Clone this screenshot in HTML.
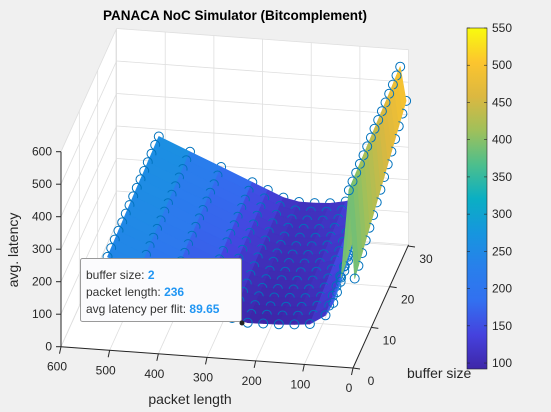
<!DOCTYPE html>
<html><head><meta charset="utf-8"><style>
html,body{margin:0;padding:0;background:#f0f0f0;}
svg{display:block;font-family:"Liberation Sans",sans-serif;}
</style></head><body>
<svg id="c" width="551" height="412" viewBox="0 0 551 412">
<defs><linearGradient id="parula" x1="0" y1="1" x2="0" y2="0">
<stop offset="0" stop-color="#3e26a8"/><stop offset="0.1" stop-color="#4542de"/><stop offset="0.2" stop-color="#3270f0"/><stop offset="0.3" stop-color="#2880eb"/><stop offset="0.4" stop-color="#1696de"/><stop offset="0.5" stop-color="#0aafc3"/><stop offset="0.6" stop-color="#4dbf8c"/><stop offset="0.7" stop-color="#a0c05a"/><stop offset="0.8" stop-color="#dcb840"/><stop offset="0.9" stop-color="#fcc52e"/><stop offset="1" stop-color="#f9fb0e"/>
</linearGradient></defs>
<g id="walls"></g><g id="surf"></g><g id="axes"></g>
<text x="235" y="20" text-anchor="middle" font-size="13.5" font-weight="bold" fill="#000">PANACA NoC Simulator (Bitcomplement)</text>
<text transform="translate(18,250) rotate(-90)" text-anchor="middle" font-size="14" fill="#262626">avg. latency</text>
<text x="190" y="404" text-anchor="middle" font-size="14" fill="#262626">packet length</text>
<text x="407" y="378" font-size="14" fill="#262626">buffer size</text>
<rect x="467" y="28" width="20" height="341" fill="url(#parula)" stroke="#262626" stroke-width="0.6"/>
<g id="cbt"></g>
<g>
<rect x="80.5" y="258.5" width="161" height="63" rx="2" fill="#fbfbfd" stroke="#9a9a9a"/>
<text x="86" y="279" font-size="12" fill="#333">buffer size: <tspan font-weight="bold" fill="#2196f3">2</tspan></text>
<text x="86" y="296" font-size="12" fill="#333">packet length: <tspan font-weight="bold" fill="#2196f3">236</tspan></text>
<text x="86" y="313" font-size="12" fill="#333">avg latency per flit: <tspan font-weight="bold" fill="#2196f3">89.65</tspan></text>
<circle cx="242" cy="323" r="2.5" fill="#222"/>
</g>
</svg>
<script>
const plVals=[4,16,32,48,64,96,128,160,192,224,256,288,320,384,448,512];
const bufVals=[2,4,6,8,10,12,14,16,18,20,22,24,26,28,30];
const lat_b2=[250,520,250,170,130,100,95,92,91,90,101,121,141,181,221,261];
const lat_b4=[264,522,260,178,135,103,97,94,93,92,103,123,143,183,223,263];
const lat_b6=[278,524,270,185,140,106,99,96,94,94,104,124,144,184,224,264];
const lat_b8=[292,526,280,193,145,109,101,98,96,96,106,126,146,186,226,266];
const lat_b10=[306,528,290,200,150,112,103,99,97,97,107,127,147,187,227,267];
const lat_b12=[320,530,300,208,155,115,105,101,99,99,109,129,149,189,229,269];
const lat_b14=[334,532,310,215,160,118,107,102,100,100,110,130,150,190,230,270];
const lat_b16=[348,534,320,223,165,121,109,104,102,102,112,132,152,192,232,272];
const lat_b18=[362,536,330,230,170,124,111,105,103,103,113,133,153,193,233,273];
const lat_b20=[376,538,340,238,175,127,113,107,104,104,114,134,154,194,234,274];
const lat_b22=[390,540,350,245,180,130,115,108,105,105,115,135,155,195,235,275];
const lat_b24=[404,542,358,250,185,133,117,110,107,107,117,137,157,197,237,277];
const lat_b26=[418,545,365,255,190,136,119,111,108,108,118,138,158,198,238,278];
const lat_b28=[432,548,372,260,195,139,121,113,110,110,120,140,160,200,240,280];
const lat_b30=[446,550,380,265,200,142,123,114,111,111,121,141,161,201,241,281];
const latRows=[lat_b2,lat_b4,lat_b6,lat_b8,lat_b10,lat_b12,lat_b14,lat_b16,lat_b18,lat_b20,lat_b22,lat_b24,lat_b26,lat_b28,lat_b30];
const zTicks=[0,100,200,300,400,500,600];
const plTicks=[0,100,200,300,400,500,600];
const bTicks=[0,10,20,30];
const cbTicks=[100,150,200,250,300,350,400,450,500,550];
const CMIN=92,CMAX=550,PLMAX=600,BMAX=30.3,ZMAX=600;
const NS='http://www.w3.org/2000/svg';
function P(pl,b,z){return [353-pl*292/600+b*55/30, 368-pl*21.3/600-b*122/30-z*195/600];}
function mk(tag,attrs,parent){const e=document.createElementNS(NS,tag);for(const k in attrs)e.setAttribute(k,attrs[k]);parent.appendChild(e);return e;}
const stops=[[62,38,168],[69,66,222],[50,112,240],[40,128,235],[22,150,222],[10,175,195],[77,191,140],[160,192,90],[220,184,64],[252,197,46],[249,251,14]];
function cmap(v){let t=(v-CMIN)/(CMAX-CMIN);t=Math.max(0,Math.min(1,t))*10;const i=Math.min(9,Math.floor(t)),f=t-i;const a=stops[i],c=stops[i+1];return 'rgb('+a.map((x,k)=>Math.round(x+(c[k]-x)*f)).join(',')+')';}
function pts(arr){return arr.map(p=>p[0].toFixed(1)+','+p[1].toFixed(1)).join(' ');}
const W=document.getElementById('walls'),S=document.getElementById('surf'),A=document.getElementById('axes');
const wb=mk('polygon',{points:pts([P(0,BMAX,0),P(PLMAX,BMAX,0),P(PLMAX,BMAX,ZMAX),P(0,BMAX,ZMAX)]),fill:'#fff'},W);

const wl=mk('polygon',{points:pts([P(PLMAX,0,0),P(PLMAX,BMAX,0),P(PLMAX,BMAX,ZMAX),P(PLMAX,0,ZMAX)]),fill:'#fff'},W);

const wf=mk('polygon',{points:pts([P(0,0,0),P(PLMAX,0,0),P(PLMAX,BMAX,0),P(0,BMAX,0)]),fill:'#fff'},W);

const gs={stroke:'#dedede','stroke-width':0.8};
function line(a,b,st,parent,name){const l=mk('line',Object.assign({x1:a[0],y1:a[1],x2:b[0],y2:b[1]},st),parent);return l;}
zTicks.forEach(z=>{line(P(0,BMAX,z),P(PLMAX,BMAX,z),gs,W,'z-gridline');line(P(PLMAX,0,z),P(PLMAX,BMAX,z),gs,W,'z-gridline');});
plTicks.forEach(p=>{line(P(p,BMAX,0),P(p,BMAX,ZMAX),gs,W,'x-gridline');line(P(p,0,0),P(p,BMAX,0),gs,W,'x-gridline');});
bTicks.forEach(b=>{line(P(PLMAX,b,0),P(PLMAX,b,ZMAX),gs,W,'y-gridline');line(P(0,b,0),P(PLMAX,b,0),gs,W,'y-gridline');});
for(let i=bufVals.length-1;i>=0;i--){
  for(let j=0;j<plVals.length;j++){
    const p=P(plVals[j],bufVals[i],latRows[i][j]);
    const c=mk('circle',{cx:p[0].toFixed(1),cy:p[1].toFixed(1),r:4.5,fill:'none',stroke:'#0072bd','stroke-width':1},S);
    
    
  }
  if(i>0){
    for(let j=plVals.length-2;j>=0;j--){
      const q=[[j,i],[j+1,i],[j+1,i-1],[j,i-1]];
      const corners=q.map(([jj,ii])=>P(plVals[jj],bufVals[ii],latRows[ii][jj]));
      const avg=q.reduce((s,[jj,ii])=>s+latRows[ii][jj],0)/4;
      const col=cmap(avg);
      const poly=mk('polygon',{points:pts(corners),fill:col,stroke:col,'stroke-width':0.7,'stroke-linejoin':'round'},S);
      
      
    }
  }
}
const as={stroke:'#262626','stroke-width':1};
line(P(PLMAX,0,0),P(PLMAX,0,ZMAX),as,A,'z-axis-line');
line(P(PLMAX,0,0),P(0,0,0),as,A,'x-axis-line');
line(P(0,0,0),P(0,BMAX,0),as,A,'y-axis-line');
zTicks.forEach(z=>{const p=P(PLMAX,0,z);line(p,[p[0]-5,p[1]],as,A,'z-tick');
  const t=mk('text',{x:p[0]-9,y:p[1]+4,'text-anchor':'end','font-size':12,fill:'#262626'},A);t.textContent=z;
  });
plTicks.forEach(v=>{const p=P(v,0,0);line(p,[p[0]-1.5,p[1]+7],as,A,'x-tick');
  const t=mk('text',{x:p[0]-4,y:p[1]+24,'text-anchor':'middle','font-size':12,fill:'#262626'},A);t.textContent=v;
  });
bTicks.forEach(v=>{const p=P(0,v,0);line(p,[p[0]+7,p[1]+1],as,A,'y-tick');
  const t=mk('text',{x:p[0]+18,y:p[1]+17,'text-anchor':'middle','font-size':12,fill:'#262626'},A);t.textContent=v;
  });
const CB=document.getElementById('cbt');
cbTicks.forEach(v=>{const y=369-(v-CMIN)/(CMAX-CMIN)*341;
  line([467,y],[470,y],{stroke:'#262626','stroke-width':0.6},CB,'colorbar-tick');
  line([484,y],[487,y],{stroke:'#262626','stroke-width':0.6},CB,'colorbar-tick');
  const t=mk('text',{x:492,y:y+4,'font-size':12,fill:'#262626'},CB);t.textContent=v;
  });
</script>
</body></html>
